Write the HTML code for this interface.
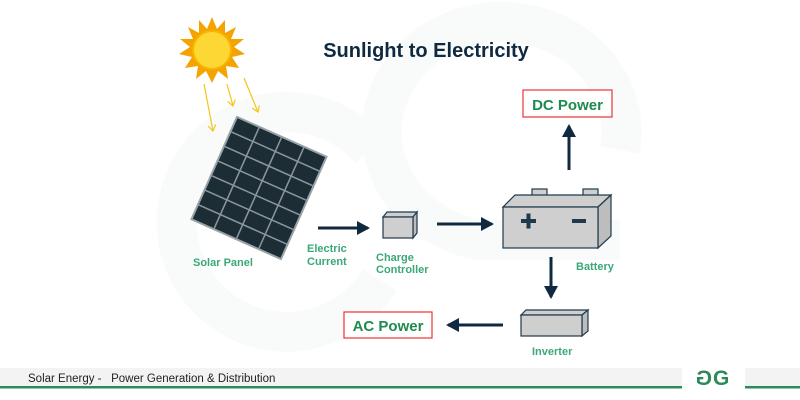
<!DOCTYPE html>
<html><head><style>
html,body{margin:0;padding:0;background:#fff;}
svg{display:block;font-family:"Liberation Sans",sans-serif;}
</style></head><body>
<svg width="800" height="400" viewBox="0 0 800 400" xmlns="http://www.w3.org/2000/svg">
<defs>
<marker id="ah" markerWidth="14" markerHeight="14" refX="11" refY="7" orient="auto" markerUnits="userSpaceOnUse">
<path d="M0,0 L13,7 L0,14 Z" fill="#0f2a40"/></marker>
<marker id="ya" markerWidth="8" markerHeight="8" refX="6" refY="4" orient="auto" markerUnits="userSpaceOnUse">
<path d="M0,0 L6,4 L0,8" fill="none" stroke="#f5c518" stroke-width="1.2"/></marker>
</defs>
<!-- watermark -->
<g fill="none" stroke="#f8fbf9" stroke-width="40">
<path d="M370,150 A110,110 0 1 0 380,280"/>
<path d="M620,150 A120,110 0 1 0 480,240 L620,240"/>
</g>
<!-- title -->
<text x="426" y="57" text-anchor="middle" font-size="20" font-weight="bold" fill="#0f2a40">Sunlight to Electricity</text>
<!-- sun -->
<g transform="translate(212,50)">
<polygon fill="#f5a300" points="
0,-33 5,-21 13,-30 13,-17 24,-23 19,-11 32,-11 22,-3 33,4 20,7 27,18 14,16 16,29 6,21 0,33 -6,21 -16,29 -14,16 -27,18 -20,7 -33,4 -22,-3 -32,-11 -19,-11 -24,-23 -13,-17 -13,-30 -5,-21"/>
<circle r="20" fill="#f7b500"/>
<circle r="18" fill="#fdd835"/>
</g>
<!-- rays -->
<g stroke="#f5c518" stroke-width="1.2" marker-end="url(#ya)">
<line x1="204" y1="84" x2="213" y2="131"/>
<line x1="227" y1="84" x2="233" y2="106"/>
<line x1="244" y1="78" x2="258" y2="112"/>
</g>
<!-- panel -->
<g transform="translate(259,188) rotate(24)">
<rect x="-49" y="-56" width="98" height="112" fill="#1c2d36" stroke="#9aa3a8" stroke-width="2"/>
<g stroke="#8d979c" stroke-width="1.5">
<line x1="-24.5" y1="-56" x2="-24.5" y2="56"/><line x1="0" y1="-56" x2="0" y2="56"/><line x1="24.5" y1="-56" x2="24.5" y2="56"/>
<line x1="-49" y1="-40" x2="49" y2="-40"/><line x1="-49" y1="-24" x2="49" y2="-24"/><line x1="-49" y1="-8" x2="49" y2="-8"/>
<line x1="-49" y1="8" x2="49" y2="8"/><line x1="-49" y1="24" x2="49" y2="24"/><line x1="-49" y1="40" x2="49" y2="40"/>
</g>
</g>
<!-- arrows -->
<g stroke="#0f2a40" stroke-width="3" marker-end="url(#ah)">
<line x1="318" y1="228" x2="368" y2="228"/>
<line x1="437" y1="224" x2="492" y2="224"/>
<line x1="551" y1="257" x2="551" y2="297"/>
<line x1="503" y1="325" x2="448" y2="325"/>
<line x1="569" y1="170" x2="569" y2="126"/>
</g>
<!-- controller -->
<g stroke="#1f3a4d" stroke-width="1.2" fill="#cfcfcf">
<polygon points="383,217 387,212 417,212 413,217"/>
<polygon points="413,217 417,212 417,233 413,238" fill="#bdbdbd"/>
<rect x="383" y="217" width="30" height="21"/>
</g>
<!-- battery -->
<g stroke="#1f3a4d" stroke-width="1.2" fill="#cfcfcf">
<rect x="532" y="189" width="15" height="7"/>
<rect x="583" y="189" width="15" height="7"/>
<polygon points="503,207 515,195 611,195 598,207"/>
<polygon points="598,207 611,195 611,236 598,248" fill="#bdbdbd"/>
<rect x="503" y="207" width="95" height="41"/>
</g>
<rect x="521" y="219" width="15" height="4" fill="#1f3a4d"/>
<rect x="526.5" y="213.5" width="4" height="15" fill="#1f3a4d"/>
<rect x="572" y="219" width="14" height="4" fill="#1f3a4d"/>
<!-- inverter -->
<g stroke="#1f3a4d" stroke-width="1.2" fill="#cfcfcf">
<polygon points="521,315 526,310 588,310 582,315"/>
<polygon points="582,315 588,310 588,331 582,336" fill="#bdbdbd"/>
<rect x="521" y="315" width="61" height="21"/>
</g>
<!-- labels -->
<g font-size="11" font-weight="bold" fill="#3aa877">
<text x="193" y="266">Solar Panel</text>
<text x="307" y="252">Electric</text>
<text x="307" y="265">Current</text>
<text x="376" y="261">Charge</text>
<text x="376" y="273">Controller</text>
<text x="576" y="270">Battery</text>
<text x="532" y="355">Inverter</text>
</g>
<rect x="523" y="90" width="89" height="27" fill="#fff" stroke="#e33" stroke-width="1.2"/>
<text x="567.5" y="110" text-anchor="middle" font-size="15" font-weight="bold" fill="#1e8a4f">DC Power</text>
<rect x="344" y="312" width="88" height="26" fill="#fff" stroke="#e33" stroke-width="1.2"/>
<text x="388" y="331" text-anchor="middle" font-size="15" font-weight="bold" fill="#1e8a4f">AC Power</text>
<!-- footer -->
<rect x="0" y="368" width="800" height="18" fill="#f3f3f3"/>
<rect x="682" y="362" width="63" height="26" fill="#fff"/>
<text x="28" y="382" font-size="11.5" fill="#222" xml:space="preserve">Solar Energy -   Power Generation &amp; Distribution</text>
<rect x="0" y="386" width="682" height="2.5" fill="#2d8a5a"/>
<rect x="745" y="386" width="55" height="2.5" fill="#2d8a5a"/>
<text transform="translate(712,385) scale(-1,1)" font-size="21" font-weight="bold" fill="#2d8a5a">G</text>
<text x="713" y="385" font-size="21" font-weight="bold" fill="#2d8a5a">G</text>
</svg>
</body></html>
